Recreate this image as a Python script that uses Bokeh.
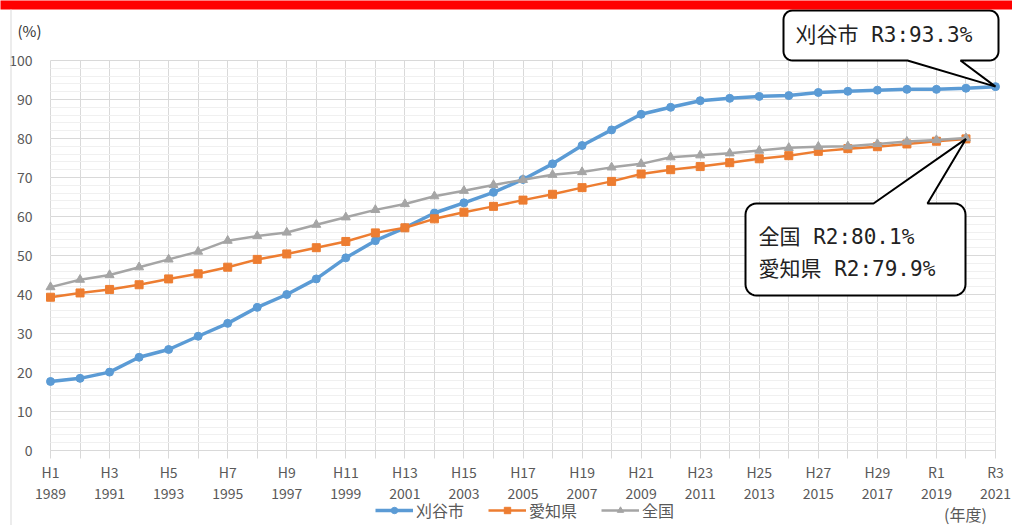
import numpy as np
from bokeh.plotting import figure
from bokeh.models import (Range1d, FixedTicker, Legend, LegendItem, Label,
                          PolyAnnotation, Grid)
from bokeh.embed import file_html
from bokeh.resources import INLINE

# ---------------- data ----------------
years = list(range(1989, 2022))
kariya = [17.7, 18.5, 20.1, 23.9, 25.9, 29.3, 32.6, 36.7, 40.0, 44.0,
          49.4, 53.8, 57.1, 60.9, 63.5, 66.2, 69.5, 73.5, 78.2, 82.2,
          86.2, 88.0, 89.7, 90.3, 90.8, 91.0, 91.8, 92.1, 92.4, 92.6,
          92.6, 92.9, 93.3]
aichi = [39.3, 40.4, 41.3, 42.5, 44.0, 45.3, 47.0, 49.0, 50.4, 52.0,
         53.6, 55.8, 57.1, 59.4, 61.1, 62.6, 64.2, 65.7, 67.4, 69.0,
         70.9, 72.0, 72.8, 73.8, 74.8, 75.6, 76.7, 77.4, 77.9, 78.6,
         79.3, 79.9]
zenkoku = [41.9, 43.8, 45.0, 47.0, 49.0, 51.0, 53.8, 55.0, 55.9, 57.9,
           59.8, 61.7, 63.2, 65.2, 66.6, 68.1, 69.4, 70.7, 71.4, 72.6,
           73.5, 75.2, 75.7, 76.2, 76.9, 77.6, 77.9, 78.0, 78.6, 79.2,
           79.6, 80.1]
series_names = ["刈谷市", "愛知県", "全国"]
tick_years = list(range(1989, 2022, 2))
tick_era = ["H1", "H3", "H5", "H7", "H9", "H11", "H13", "H15", "H17", "H19",
            "H21", "H23", "H25", "H27", "H29", "R1", "R3"]
y_ticks = list(range(0, 101, 10))
y_minor = list(range(0, 101, 2))
callout_kariya = "刈谷市 R3:93.3%"
callout_zenkoku = "全国 R2:80.1%"
callout_aichi = "愛知県 R2:79.9%"
unit_y = "(%)"
unit_x = "(年度)"

# ---------------- layout (whole canvas is the frame) ----------------
W, H = 1012, 525
PL, PR, PT, PB = 50, 995, 60, 450      # plot-area edges in canvas px
X0, X1 = years[0], years[-1]
Y0, Y1 = 0, 100
PXX = (PR - PL) / (X1 - X0)
PXY = (PB - PT) / (Y1 - Y0)


def dx(px):
    return X0 + (px - PL) / PXX


def dy(py):
    return Y0 + (PB - py) / PXY


GRID = "#d9d9d9"
TXT = "#595959"
JP = "Noto Sans CJK JP"

p = figure(width=W, height=H, output_backend="svg", toolbar_location=None,
           x_range=Range1d(dx(0), dx(W)), y_range=Range1d(dy(H), dy(0)),
           min_border=0)
p.min_border_left = p.min_border_right = 0
p.min_border_top = p.min_border_bottom = 0
p.background_fill_color = "white"
p.border_fill_color = "white"
p.outline_line_color = None

has_cb = "cross_bounds" in Grid.properties()

# grids
if has_cb:
    p.xgrid.ticker = FixedTicker(ticks=years)
    p.xgrid.bounds = (X0, X1)
    p.xgrid.cross_bounds = (Y0, Y1)
    p.xgrid.grid_line_color = GRID
    p.ygrid.ticker = FixedTicker(ticks=y_ticks, minor_ticks=y_minor)
    p.ygrid.bounds = (Y0, Y1)
    p.ygrid.cross_bounds = (X0, X1)
    p.ygrid.grid_line_color = GRID
    p.ygrid.minor_grid_line_color = "#f0f0f0"
else:
    p.xgrid.visible = False
    p.ygrid.visible = False
    p.segment(x0=X0, x1=X1, y0=y_minor, y1=y_minor, line_color="#f0f0f0")
    p.segment(x0=X0, x1=X1, y0=y_ticks, y1=y_ticks, line_color=GRID)
    p.segment(x0=years, x1=years, y0=Y0, y1=Y1, line_color=GRID)

# x axis (pinned at y = 0)
xa = p.xaxis[0]
xa.fixed_location = 0
xa.bounds = (X0, X1)
xa.ticker = FixedTicker(ticks=years)
overrides = {y: "" for y in years}
for yr, era in zip(tick_years, tick_era):
    overrides[yr] = f"{era}\n{yr}"
xa.major_label_overrides = overrides
xa.axis_line_color = GRID
xa.major_tick_line_color = GRID
xa.major_tick_in = 0
xa.major_tick_out = 8
xa.minor_tick_line_color = None
xa.major_label_text_font = JP
xa.major_label_text_font_size = "14px"
xa.major_label_text_color = TXT
xa.major_label_text_line_height = 1.05
xa.major_label_standoff = 3

# y axis (pinned at x = 1989)
ya = p.yaxis[0]
ya.fixed_location = X0
ya.bounds = (Y0, Y1)
ya.ticker = FixedTicker(ticks=y_ticks)
ya.axis_line_color = None
ya.major_tick_line_color = None
ya.minor_tick_line_color = None
ya.major_label_text_font = JP
ya.major_label_text_font_size = "14px"
ya.major_label_text_color = TXT
ya.major_label_standoff = 12

# series (Excel order: later series on top)
l1 = p.line(years, kariya, line_color="#5B9BD5", line_width=3.5)
s1 = p.scatter(years, kariya, marker="circle", size=8,
               fill_color="#5B9BD5", line_color="#5B9BD5")
l2 = p.line(years[:len(aichi)], aichi, line_color="#ED7D31", line_width=2.5)
s2 = p.scatter(years[:len(aichi)], aichi, marker="square", size=8,
               fill_color="#ED7D31", line_color="#ED7D31")
l3 = p.line(years[:len(zenkoku)], zenkoku, line_color="#A5A5A5", line_width=2.5)
s3 = p.scatter(years[:len(zenkoku)], zenkoku, marker="triangle", size=9,
               fill_color="#A5A5A5", line_color="#A5A5A5")

legend = Legend(items=[LegendItem(label=series_names[0], renderers=[l1, s1]),
                       LegendItem(label=series_names[1], renderers=[l2, s2]),
                       LegendItem(label=series_names[2], renderers=[l3, s3])],
                orientation="horizontal", location=(375, 3),
                label_text_font=JP, label_text_font_size="16px",
                label_text_color=TXT, glyph_width=38, glyph_height=16,
                label_height=16, spacing=24, padding=0, margin=0,
                label_standoff=3, border_line_color=None,
                background_fill_alpha=0)
p.add_layout(legend)


# ---------------- callouts ----------------
def callout(bx0, bx1, by0, by1, r, side, ba, bb, tip):
    """box given in canvas px (y down); pointer on 'top' or 'bottom'; tip in data."""
    x0, x1 = dx(bx0), dx(bx1)
    yt, yb = dy(by0), dy(by1)
    rx, ry = r / PXX, r / PXY
    xs, ys = [], []

    def arc(cx, cy, a0, a1):
        for t in np.linspace(np.radians(a0), np.radians(a1), 8):
            xs.append(float(cx + rx * np.cos(t)))
            ys.append(float(cy + ry * np.sin(t)))

    xs.append(x0 + rx); ys.append(yt)
    if side == "top":
        xs += [dx(ba), tip[0], dx(bb)]
        ys += [yt, tip[1], yt]
    arc(x1 - rx, yt - ry, 90, 0)
    arc(x1 - rx, yb + ry, 0, -90)
    if side == "bottom":
        xs += [dx(bb), tip[0], dx(ba)]
        ys += [yb, tip[1], yb]
    arc(x0 + rx, yb + ry, -90, -180)
    arc(x0 + rx, yt - ry, 180, 90)
    return PolyAnnotation(xs=xs, ys=ys, fill_color="white", fill_alpha=1.0,
                          line_color="black", line_alpha=1.0, line_width=2)


p.add_layout(callout(783, 998, 10, 60, 9, "bottom", 907, 960,
                     (years[-1], kariya[-1])))
p.add_layout(callout(745, 965, 203, 295, 11, "top", 873, 927,
                     (years[len(aichi) - 1], aichi[-1])))

CFONT = "DejaVu Sans Mono, Noto Sans CJK JP"
for txt, fx, fy in [(callout_kariya, 795, 34),
                    (callout_zenkoku, 758, 236),
                    (callout_aichi, 758, 268)]:
    p.add_layout(Label(x=dx(fx), y=dy(fy), text=txt, text_font=CFONT,
                       text_font_size="21px", text_color="#222222",
                       text_align="left", text_baseline="middle"))

# unit labels
p.add_layout(Label(x=dx(29), y=dy(30), text=unit_y, text_font=JP,
                   text_font_size="15px", text_color="#333333",
                   text_align="center", text_baseline="middle"))
p.add_layout(Label(x=dx(965), y=dy(513), text=unit_x, text_font=JP,
                   text_font_size="16px", text_color=TXT,
                   text_align="center", text_baseline="middle"))

# red band at the top and thin chart border on the left
p.add_layout(PolyAnnotation(xs=[dx(-10), dx(W + 10), dx(W + 10), dx(-10)],
                            ys=[dy(-10), dy(-10), dy(9), dy(9)],
                            fill_color="#ff0000", fill_alpha=1.0,
                            line_color=None))
p.add_layout(PolyAnnotation(xs=[dx(10), dx(11), dx(11), dx(10)],
                            ys=[dy(9), dy(9), dy(H + 5), dy(H + 5)],
                            fill_color=GRID, fill_alpha=1.0, line_color=None))

open("out.html", "w").write(file_html(p, INLINE))
